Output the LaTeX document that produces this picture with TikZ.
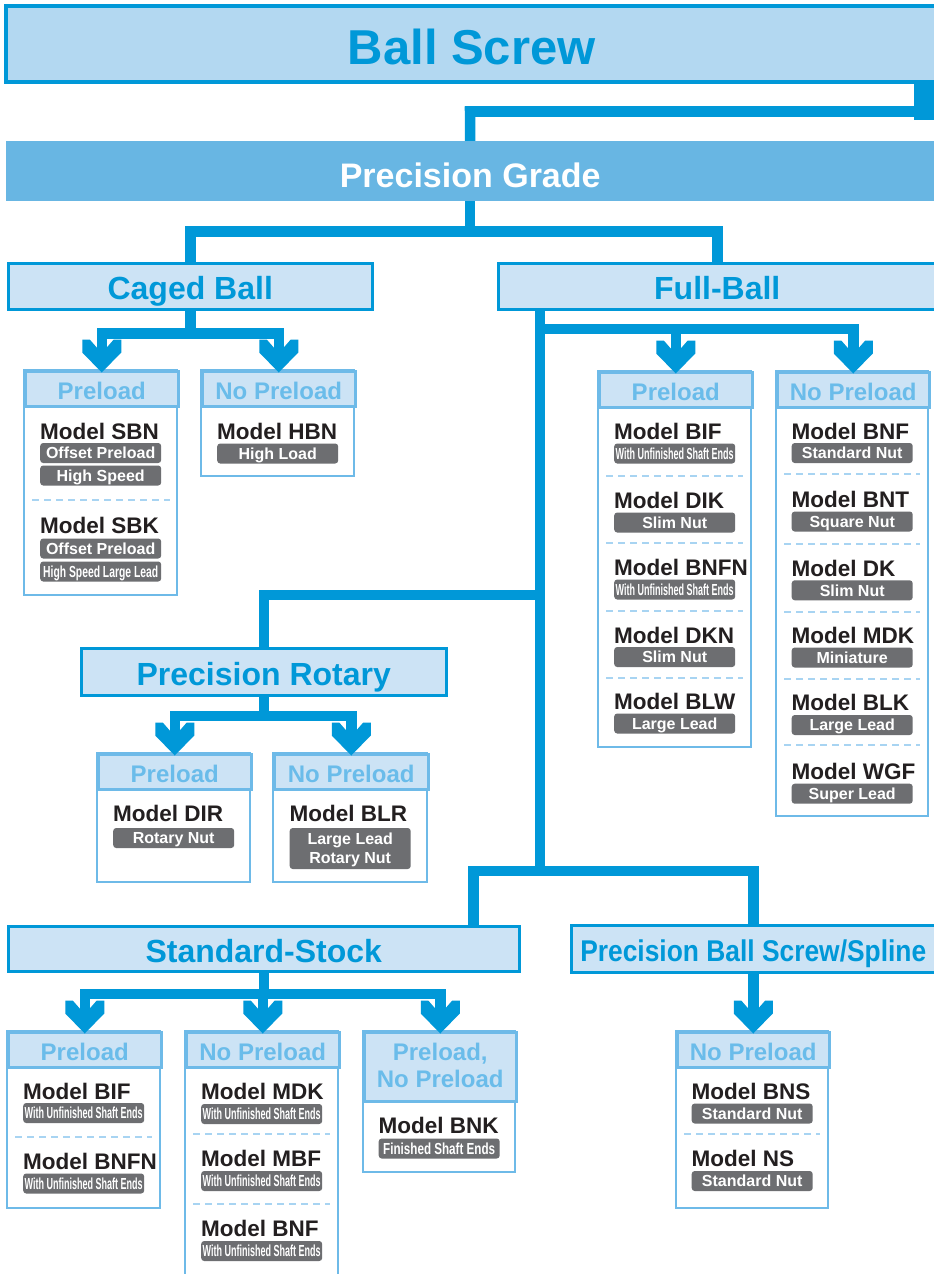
\documentclass[tikz,border=0pt]{standalone}
\usepackage{fontspec}
\setmainfont{Liberation Sans}
\usetikzlibrary{calc}
\definecolor{cblue}{RGB}{0,152,216}
\definecolor{bsfill}{RGB}{179,216,241}
\definecolor{pgfill}{RGB}{104,182,227}
\definecolor{catfill}{RGB}{204,227,245}
\definecolor{subline}{RGB}{110,186,232}
\definecolor{hdrtext}{RGB}{106,188,234}
\definecolor{dashblue}{RGB}{168,212,242}
\definecolor{badgegray}{RGB}{109,110,113}
\definecolor{mtext}{RGB}{35,31,32}
\newcommand\fsz[2]{\fontsize{#1pt}{#2pt}\selectfont\bfseries}
\newcommand\cnd[2]{\resizebox{#1pt}{\height}{#2}}
\pgfdeclarelayer{bg}
\pgfsetlayers{bg,main}
\tikzset{
 conn/.style={draw=cblue, line width=10.5pt, line cap=rect},
 cat/.style={draw=cblue, line width=2.5pt, fill=catfill, text=cblue, font=\fsz{32}{32}, inner sep=0pt, anchor=north west, text height=27pt, text depth=0pt},
 subbody/.style={draw=subline, line width=2.5pt, fill=white},
 subhd/.style={draw=subline, line width=2.5pt, fill=catfill, text=hdrtext, font=\fsz{24}{27}, inner sep=0pt, anchor=north west, align=center, text height=21pt, text depth=0pt},
 model/.style={font=\fsz{22.5}{22.5}, text=mtext, anchor=west, inner sep=0pt},
 badge/.style={fill=badgegray, rounded corners=3pt, text=white, font=\fsz{16}{19}, minimum width=121pt, minimum height=20pt, inner sep=0pt, text height=11.5pt, text depth=0pt, anchor=west},
 sepline/.style={draw=dashblue, line width=1.6pt, dash pattern=on 7pt off 5pt},
 chev/.pic={\fill[cblue] (-5,-25)--(-12,-33)--(-19.5,-33)--(-19.5,-20)--(0,0)--(19.5,-20)--(19.5,-33)--(12,-33)--(5,-25)--cycle;},
}
\newcommand\subbox[7]{%
  \draw[subbody] (#2,#3) rectangle (#4,#5);
  \node[subhd, minimum width={(#4-#2)*1pt}, minimum height={(#6-#3)*1pt}] (#1) at (#2,#3) {#7};
}
\newcommand\mdl[6]{%
  \node[model] (#1t) at (#2,#3) {#4};
  \node[badge] (#1b) at (#2,#5) {#6};
}
\newcommand\wuse{\cnd{118}{With Unfinished Shaft Ends}}
\begin{document}
\begin{tikzpicture}[x=1pt,y=-1pt]
\useasboundingbox (0,0) rectangle (934,1274);
\clip (0,0) rectangle (934,1274);

% top level
\node[anchor=north west, minimum width=932pt, minimum height=76pt, draw=cblue, line width=3.5pt, fill=bsfill, inner sep=0pt, text=cblue, font=\fsz{49}{49}, text height=42pt, text depth=0pt] (bs) at (4,4) {Ball Screw};
\node[anchor=north west, minimum width=928pt, minimum height=60pt, fill=pgfill, inner sep=0pt, text=white, font=\fsz{34}{34}, text height=32pt, text depth=0pt] (pg) at (6,141) {Precision Grade};

% categories
\node[cat, minimum width=364pt, minimum height=46pt] (cb) at (7,262) {Caged Ball};
\node[cat, minimum width=438pt, minimum height=46pt] (fb) at (497,262) {Full-Ball};
\node[cat, minimum width=365pt, minimum height=47pt] (pr) at (80,647) {Precision Rotary};
\node[cat, minimum width=511pt, minimum height=45pt] (ss) at (7,925) {Standard-Stock};
\node[cat, minimum width=364pt, minimum height=47pt, font=\fsz{30}{30}, text height=25pt] (sl) at (570,924) {\cnd{346}{Precision Ball Screw/Spline}};

% sub boxes
\subbox{cbp}{24}{370}{177}{595}{405}{Preload}
\subbox{cbn}{201}{370}{354}{476}{405}{No Preload}
\subbox{fbp}{598}{371}{751}{747}{406}{Preload}
\subbox{fbn}{776}{371}{928}{816}{406}{No Preload}
\subbox{rp}{97}{753}{250}{882}{788}{Preload}
\subbox{rn}{273}{753}{427}{882}{788}{No Preload}
\subbox{sp}{7}{1031}{160}{1208}{1066}{Preload}
\subbox{snp}{185}{1031}{338}{1290}{1066}{No Preload}
\draw[subbody] (363,1031) rectangle (515,1172);
\node[subhd, minimum width=152pt, minimum height=69pt, text height=48pt, text depth=6pt] (spn) at (363,1031) {Preload,\\No Preload};
\subbox{sln}{676}{1031}{828}{1208}{1066}{No Preload}

% Caged Ball items
\mdl{sbn}{40}{431}{Model SBN}{453}{Offset Preload}
\node[badge] (sbnc) at (40,475.5) {High Speed};
\draw[sepline] (32,500) -- (170,500);
\mdl{sbk}{40}{525.5}{Model SBK}{548.5}{Offset Preload}
\node[badge] (sbkc) at (40,571.5) {\cnd{115}{High Speed Large Lead}};
\mdl{hbn}{217}{431}{Model HBN}{453.5}{High Load}

% Full-Ball preload
\mdl{bif}{614}{431.5}{Model BIF}{453.5}{\wuse}
\draw[sepline] (606,476) -- (743,476);
\mdl{dik}{614}{500}{Model DIK}{522.5}{Slim Nut}
\draw[sepline] (606,543) -- (743,543);
\mdl{bnfn}{614}{567.5}{Model BNFN}{589.5}{\wuse}
\draw[sepline] (606,611) -- (743,611);
\mdl{dkn}{614}{635}{Model DKN}{657}{Slim Nut}
\draw[sepline] (606,678) -- (743,678);
\mdl{blw}{614}{701}{Model BLW}{723.5}{Large Lead}

% Full-Ball no preload
\mdl{bnf}{791.5}{431}{Model BNF}{453}{Standard Nut}
\draw[sepline] (784,474) -- (920,474);
\mdl{bnt}{791.5}{499}{Model BNT}{521.5}{Square Nut}
\draw[sepline] (784,544) -- (920,544);
\mdl{dk}{791.5}{568.3}{Model DK}{590.3}{Slim Nut}
\draw[sepline] (784,612) -- (920,612);
\mdl{mdk}{791.5}{635.3}{Model MDK}{657.5}{Miniature}
\draw[sepline] (784,679) -- (920,679);
\mdl{blk}{791.5}{702.3}{Model BLK}{725}{Large Lead}
\draw[sepline] (784,745) -- (920,745);
\mdl{wgf}{791.5}{771.7}{Model WGF}{793.7}{Super Lead}

% Precision Rotary
\mdl{dir}{113}{813}{Model DIR}{838}{Rotary Nut}
\node[model] (blrt) at (289.5,813) {Model BLR};
\node[badge, minimum height=41pt, align=center, text height=30.5pt, text depth=1.5pt] (blrb) at (289.5,848.5) {Large Lead\\Rotary Nut};

% Standard-Stock
\mdl{sbif}{23}{1091}{Model BIF}{1113}{\wuse}
\draw[sepline] (15,1137) -- (152,1137);
\mdl{sbnfn}{23}{1161}{Model BNFN}{1183.5}{\wuse}
\mdl{smdk}{201}{1091}{Model MDK}{1114}{\wuse}
\draw[sepline] (193,1134) -- (330,1134);
\mdl{smbf}{201}{1158}{Model MBF}{1181}{\wuse}
\draw[sepline] (193,1204) -- (330,1204);
\mdl{sbnf}{201}{1228}{Model BNF}{1251}{\wuse}
\mdl{bnk}{378.5}{1125.5}{Model BNK}{1148.5}{\cnd{112}{Finished Shaft Ends}}

% Spline
\mdl{bns}{691.5}{1091}{Model BNS}{1113.5}{Standard Nut}
\draw[sepline] (684,1134) -- (820,1134);
\mdl{ns}{691.5}{1158}{Model NS}{1181}{Standard Nut}

% connectors
\begin{pgfonlayer}{bg}
\fill[white] (0,0) rectangle (934,1274);
\coordinate (bsr) at ($(bs.south east)+(-14,0)$);
\draw[conn, line width=24pt, line cap=butt] (bsr) -- ++(0,36);
\coordinate (j0) at (470,111.5);
\draw[conn] (j0) -- (j0 -| bsr);
\draw[conn] (j0) -- (pg.north);

\draw[conn] (pg.south) -- ++(0,30) coordinate (j1);
\draw[conn] (cb.north |- j1) -- (fb.north |- j1);
\draw[conn] (cb.north |- j1) -- (cb.north);
\draw[conn] (fb.north |- j1) -- (fb.north);

\draw[conn] (cb.south) -- ++(0,23) coordinate (j2);
\draw[conn] (cbp.north |- j2) -- (cbn.north |- j2);
\draw[conn] (cbp.north |- j2) -- ($(cbp.north)+(0,-20)$);
\draw[conn] (cbn.north |- j2) -- ($(cbn.north)+(0,-20)$);

\coordinate (t0) at ($(fb.south west)+(43,0)$);
\coordinate (j6) at (473.5,871);
\draw[conn] (t0) -- (t0 |- j6);
\coordinate (j3) at (540,329);
\draw[conn] (j3) -- (fbn.north |- j3);
\draw[conn] (fbp.north |- j3) -- ($(fbp.north)+(0,-20)$);
\draw[conn] (fbn.north |- j3) -- ($(fbn.north)+(0,-20)$);
\coordinate (j4) at (540,595);
\draw[conn] (j4) -- (pr.north |- j4) -- (pr.north);

\draw[conn] (pr.south) -- ++(0,19.5) coordinate (j7);
\draw[conn] (rp.north |- j7) -- (rn.north |- j7);
\draw[conn] (rp.north |- j7) -- ($(rp.north)+(0,-20)$);
\draw[conn] (rn.north |- j7) -- ($(rn.north)+(0,-20)$);

\draw[conn] (j6) -- (sl.north |- j6) -- (sl.north);
\draw[conn] (j6) -- (j6 |- ss.north);

\draw[conn] (ss.south) -- ++(0,21.5) coordinate (j8);
\draw[conn] (sp.north |- j8) -- (spn.north |- j8);
\draw[conn] (sp.north |- j8) -- ($(sp.north)+(0,-20)$);
\draw[conn] (snp.north |- j8) -- ($(snp.north)+(0,-20)$);
\draw[conn] (spn.north |- j8) -- ($(spn.north)+(0,-20)$);

\draw[conn] (sl.south) -- ($(sln.north)+(0,-20)$);
\end{pgfonlayer}

% chevrons
\foreach \h in {cbp,cbn,fbp,fbn,rp,rn,sp,snp,spn,sln}
  \pic at ($(\h.north)+(0,2.5)$) {chev};
\end{tikzpicture}
\end{document}
